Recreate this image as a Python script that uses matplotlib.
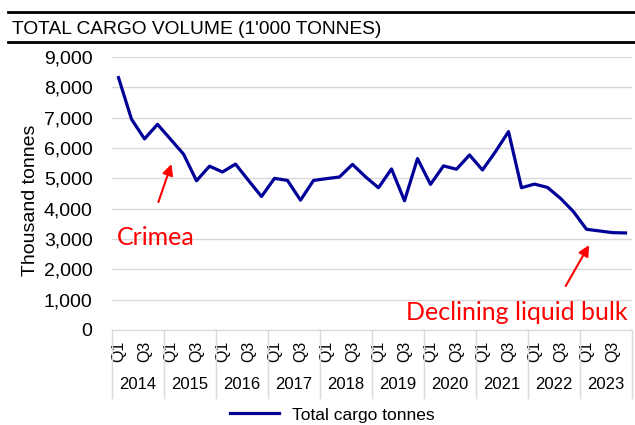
import numpy as np
import matplotlib
matplotlib.use("Agg")
import matplotlib.pyplot as plt
from matplotlib.lines import Line2D
from matplotlib.ticker import FuncFormatter
import matplotlib.transforms as mtransforms

# quarterly total cargo volume, thousand tonnes (2014 Q1 .. 2023 Q4)
years = ["2014", "2015", "2016", "2017", "2018", "2019", "2020", "2021", "2022", "2023"]
quarters = ["Q1", "Q2", "Q3", "Q4"]
cargo = [8320, 6950, 6300, 6780, 6290, 5800, 4920, 5400, 5210, 5470,
         4930, 4400, 5000, 4930, 4280, 4930, 4990, 5045, 5460, 5050,
         4690, 5310, 4260, 5650, 4800, 5410, 5300, 5770, 5275, 5880,
         6540, 4690, 4810, 4700, 4340, 3900, 3320, 3265, 3210, 3200]

plt.rcParams['font.family'] = ['Liberation Sans', 'DejaVu Sans']

fig = plt.figure(figsize=(6.35, 4.25), dpi=100)
ax = fig.add_axes([112/635, 1 - 330/425, 520/635, 273/425])

x = np.arange(len(cargo))
ax.plot(x, cargo, color='#000099', lw=2.3, label='Total cargo tonnes')

ax.set_xlim(-0.5, len(cargo) - 0.5)
ax.set_ylim(0, 9000)
ax.set_yticks(range(0, 9001, 1000))
ax.yaxis.set_major_formatter(FuncFormatter(lambda v, p: f"{int(v):,}"))
ax.tick_params(axis='y', length=0, pad=14, labelsize=14)
ax.grid(axis='y', color='#d9d9d9', lw=1)
ax.set_axisbelow(True)
for s in ['left', 'right', 'top']:
    ax.spines[s].set_visible(False)
ax.spines['bottom'].set_color('#d9d9d9')

# quarter labels (Q1 and Q3 shown)
qpos = [i for i in x if i % 2 == 0]
ax.set_xticks(qpos)
ax.set_xticklabels([quarters[i % 4] for i in qpos], rotation=90, fontsize=11.5)
ax.tick_params(axis='x', length=0, pad=8)

# year labels and separators under the axis
trans = mtransforms.blended_transform_factory(ax.transData, ax.transAxes)
for k, yr in enumerate(years):
    ax.text(4 * k + 1.5, -0.20, yr, transform=trans, ha='center', va='center', fontsize=12)
for k in range(len(years) + 1):
    ax.add_line(Line2D([4 * k - 0.5, 4 * k - 0.5], [0, -0.25], transform=trans,
                       color='#d9d9d9', lw=1, clip_on=False))

fig.text(31/635, 1 - 200/425, 'Thousand tonnes', rotation=90, ha='center', va='center', fontsize=14)

# title with rules
fig.text(12/635, 1 - 34/425, "TOTAL CARGO VOLUME (1'000 TONNES)", ha='left', va='baseline',
         fontsize=13.8)
for yy in [12, 42]:
    fig.add_artist(Line2D([8/635, 1], [1 - yy/425, 1 - yy/425], color='black', lw=2))

# annotations
arrow = dict(arrowstyle='-|>', color='red', lw=1.5, mutation_scale=16, shrinkA=0, shrinkB=0)
ax.annotate('', xy=(4.07, 5470), xytext=(3.07, 4220), arrowprops=arrow)
ax.text(-0.15, 2800, 'Crimea', color='red', fontsize=18, family='Lato', va='baseline')
ax.annotate('', xy=(36.2, 2800), xytext=(34.4, 1450), arrowprops=arrow)
ax.text(22.1, 330, 'Declining liquid bulk', color='red', fontsize=18, family='Lato', va='baseline')

fig.legend(loc='center left', bbox_to_anchor=(230/635, 1 - 415/425), frameon=False,
           fontsize=12.5, handlelength=2.8, handletextpad=0.75, borderpad=0, borderaxespad=0)

fig.savefig('out.png', dpi=100)
